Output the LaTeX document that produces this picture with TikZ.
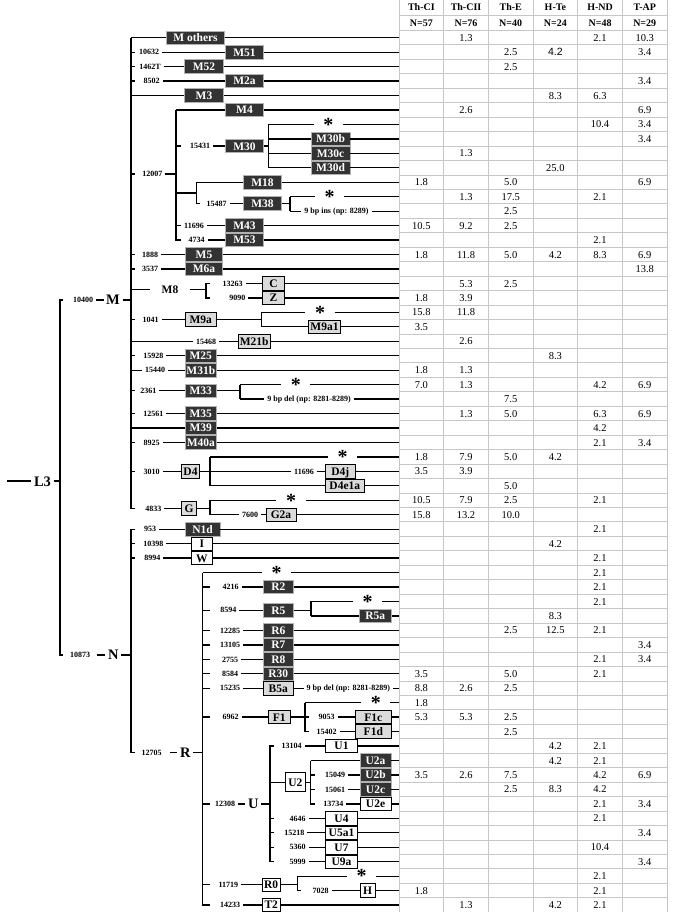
\documentclass[tikz,border=0pt]{standalone}
\usepackage{fontspec}
\setmainfont{Liberation Serif}
\newfontfamily\cellsans{Liberation Sans}
\definecolor{boxdark}{gray}{0.2}
\definecolor{boxlight}{gray}{0.86}
\definecolor{gridline}{gray}{0.78}

\tikzset{
	bx/.style={draw, line width=0.8pt, minimum width=#1, minimum height=13.5pt, inner sep=0pt, text height=7.8pt, text depth=0pt, font=\fontsize{11.5}{11.5}\selectfont\bfseries},
	dbx/.style={bx=#1, fill=boxdark, draw=gray!60, text=white},
	lbx/.style={bx=#1, fill=boxlight},
	wbx/.style={bx=#1, fill=white},
	num/.style={inner xsep=2.5pt, inner ysep=0pt, text height=5.5pt, text depth=0pt, font=\fontsize{8}{8}\selectfont\bfseries},
	clade/.style={inner xsep=2pt, inner ysep=0pt, text height=10pt, text depth=0pt, font=\fontsize{14.5}{15}\selectfont\bfseries},
	astk/.style={minimum width=28pt, inner sep=0pt, text height=13.5pt, text depth=0pt, font=\fontsize{20}{20}\selectfont\bfseries},
	cell/.style={inner sep=0pt, text height=7.1pt, text depth=0pt, font=\fontsize{10.5}{10.5}\selectfont},
	hdr/.style={inner sep=0pt, text height=6.8pt, text depth=0pt, font=\fontsize{10}{10}\selectfont\bfseries},
	tabline/.style={gridline, line width=1pt}
}

\begin{document}
\begin{tikzpicture}[x=1pt, y=-14.455pt, line width=1.3pt]
	\useasboundingbox (0,-1.608) rectangle (685,61.48);

	% table
	\foreach \x in {0,...,6}
		\draw[tabline] ({399+44.667*\x},-1.608) -- ({399+44.667*\x},61.48);
	\draw[tabline] (399,-0.55) -- (667,-0.55);
	\foreach \i in {0,...,60}
		\draw[tabline] (399,\i+0.5) -- (667,\i+0.5);
	\foreach \c/\h/\n in {1/Th-CI/57, 2/Th-CII/76, 3/Th-E/40, 4/H-Te/24, 5/H-ND/48, 6/T-AP/29} {
		\node[hdr] (hd\c) at ({399+44.667*(\c-0.5)},-1.15) {\h};
		\node[hdr] (hn\c) at ({399+44.667*(\c-0.5)},0) {N=\n};
	}
	\foreach \r/\c/\v in {1/2/1.3, 1/5/2.1, 1/6/10.3, 2/3/2.5, 2/6/3.4, 3/3/2.5, 4/6/3.4,
		5/4/8.3, 5/5/6.3, 6/2/2.6, 6/6/6.9, 7/5/10.4, 7/6/3.4, 8/6/3.4, 9/2/1.3, 10/4/25.0,
		11/1/1.8, 11/3/5.0, 11/6/6.9, 12/2/1.3, 12/3/17.5, 12/5/2.1, 13/3/2.5,
		14/1/10.5, 14/2/9.2, 14/3/2.5, 15/5/2.1,
		16/1/1.8, 16/2/11.8, 16/3/5.0, 16/4/4.2, 16/5/8.3, 16/6/6.9, 17/6/13.8,
		18/2/5.3, 18/3/2.5, 19/1/1.8, 19/2/3.9, 20/1/15.8, 20/2/11.8, 21/1/3.5,
		22/2/2.6, 23/4/8.3, 24/1/1.8, 24/2/1.3, 25/1/7.0, 25/2/1.3, 25/5/4.2, 25/6/6.9,
		26/3/7.5, 27/2/1.3, 27/3/5.0, 27/5/6.3, 27/6/6.9, 28/5/4.2, 29/5/2.1, 29/6/3.4,
		30/1/1.8, 30/2/7.9, 30/3/5.0, 30/4/4.2, 31/1/3.5, 31/2/3.9, 32/3/5.0,
		33/1/10.5, 33/2/7.9, 33/3/2.5, 33/5/2.1, 34/1/15.8, 34/2/13.2, 34/3/10.0,
		35/5/2.1, 36/4/4.2, 37/5/2.1, 38/5/2.1, 39/5/2.1, 40/5/2.1, 41/4/8.3,
		42/3/2.5, 42/4/12.5, 42/5/2.1, 43/6/3.4, 44/5/2.1, 44/6/3.4,
		45/1/3.5, 45/3/5.0, 45/5/2.1, 46/1/8.8, 46/2/2.6, 46/3/2.5, 47/1/1.8,
		48/1/5.3, 48/2/5.3, 48/3/2.5, 49/3/2.5, 50/4/4.2, 50/5/2.1, 51/4/4.2, 51/5/2.1,
		52/1/3.5, 52/2/2.6, 52/3/7.5, 52/5/4.2, 52/6/6.9, 53/3/2.5, 53/4/8.3, 53/5/4.2,
		54/5/2.1, 54/6/3.4, 55/5/2.1, 56/6/3.4, 57/5/10.4, 58/6/3.4, 59/5/2.1,
		60/1/1.8, 60/5/2.1, 61/2/1.3, 61/4/4.2, 61/5/2.1}
		\node[cell] (c\r-\c) at ({399+44.667*(\c-0.5)},\r) {\v};
	\node[cell, font=\fontsize{10.5}{10.5}\cellsans] (c2-4) at ({399+44.667*3.5},2) {4.2};

	\foreach \i in {1,...,61}
		\coordinate (e\i) at (399,\i);

	% bars
	\coordinate (l3v) at (60,0);
	\coordinate (mv) at (131,0);
	\coordinate (nv) at (131,0);
	\coordinate (m4v) at (176,0);
	\coordinate (m18v) at (196.7,0);
	\coordinate (m30v) at (268.3,0);
	\coordinate (m38v) at (290,0);
	\coordinate (m8v) at (206,0);
	\coordinate (m9av) at (261.7,0);
	\coordinate (m33v) at (240,0);
	\coordinate (d4v) at (210,0);
	\coordinate (gv) at (210,0);
	\coordinate (rv) at (202.7,0);
	\coordinate (r5v) at (311,0);
	\coordinate (f1v) at (305,0);
	\coordinate (uv) at (270,0);
	\coordinate (u2v) at (310.7,0);
	\coordinate (r0v) at (297.3,0);
	\coordinate (j18) at (186,11.75);
	\coordinate (root) at (6.7,31.67);

	% L3, M, N
	\node[clade] (l3) at (42.5,31.67) {L3};
	\node[num] (n10400) at (83,19.14) {10400};
	\node[clade] (mlab) at (113,19.14) {M};
	\node[num, inner xsep=6pt] (n10873) at (80,43.7) {10873};
	\node[clade] (nlab) at (113.3,43.7) {N};
	\draw (root) -- (l3) -- (l3v |- l3);
	\draw (l3v |- mlab) ++(3,0) -- (l3v |- mlab) -- (l3v |- nlab) -- ++(3,0);
	\draw (n10400) -- (mlab) -- (mv |- mlab);
	\draw (n10873) -- (nlab) -- (nv |- nlab);

	% M
	\node[dbx=57.6] (mo) at (195.5,1) {M others};
	\node[num] (n10632) at (149,2) {10632};
	\node[dbx=37.6] (m51) at (244.5,2) {M51};
	\node[num] (n1462T) at (150,3) {1462T};
	\node[dbx=38.3] (m52) at (204,3) {M52};
	\node[num] (n8502) at (151.7,4) {8502};
	\node[dbx=37.6] (m2a) at (244.5,4) {M2a};
	\node[dbx=38.3] (m3) at (204,5) {M3};
	\node[num] (n12007) at (152.3,10.42) {12007};
	\node[dbx=37.6] (m4) at (244.5,6) {M4};
	\node[num] (n15431) at (200,8.5) {15431};
	\node[dbx=37.6] (m30) at (244.5,8.5) {M30};
	\node[astk] (s7) at (328.3,7) {*};
	\node[dbx=39] (m30b) at (330.5,8) {M30b};
	\node[dbx=39] (m30c) at (330.5,9) {M30c};
	\node[dbx=39] (m30d) at (330.5,10) {M30d};
	\node[dbx=38.4] (m18) at (262.5,11) {M18};
	\node[num] (n15487) at (216.7,12.47) {15487};
	\node[dbx=38.4] (m38) at (262.5,12.47) {M38};
	\node[astk] (s12) at (329.5,12) {*};
	\node[num] (ins) at (336.5,13) {9 bp ins (np: 8289)};
	\node[num] (n11696a) at (194,14) {11696};
	\node[dbx=37.6] (m43) at (244.5,14) {M43};
	\node[num] (n4734) at (196.7,15) {4734};
	\node[dbx=37.6] (m53) at (244.5,15) {M53};
	\node[num] (n1888) at (150,16) {1888};
	\node[dbx=37.7] (m5) at (204,16) {M5};
	\node[num] (n3537) at (150,17) {3537};
	\node[dbx=37.7] (m6a) at (204,17) {M6a};
	\node[font=\fontsize{11.5}{11.5}\selectfont\bfseries, inner xsep=11pt, inner ysep=0pt, text height=7.8pt, text depth=0pt] (m8) at (170,18.42) {M8};
	\node[num] (n13263) at (232.7,18) {13263};
	\node[lbx=21.6] (c) at (273.5,18) {C};
	\node[num] (n9090) at (237.3,19) {9090};
	\node[lbx=21.6] (z) at (273.5,19) {Z};
	\node[num] (n1041) at (150.7,20.5) {1041};
	\node[lbx=31.7] (m9a) at (200.8,20.5) {M9a};
	\node[astk] (s20) at (320,20) {*};
	\node[lbx=32.3] (m9a1) at (324.5,21) {M9a1};
	\node[num] (n15468) at (206,22) {15468};
	\node[lbx=31.7] (m21b) at (254.2,22) {M21b};
	\node[num] (n15928) at (153.3,23) {15928};
	\node[dbx=31.7] (m25) at (200.8,23) {M25};
	\node[num] (n15440) at (155,24) {15440};
	\node[dbx=31.7] (m31b) at (200.8,24) {M31b};
	\node[num] (n2361) at (148.3,25.42) {2361};
	\node[dbx=31.7] (m33) at (200.8,25.42) {M33};
	\node[astk] (s25) at (295.8,25) {*};
	\node[num] (del1) at (309,26) {9 bp del (np: 8281-8289)};
	\node[num] (n12561) at (153.3,27) {12561};
	\node[dbx=31.7] (m35) at (200.8,27) {M35};
	\node[dbx=31.7] (m39) at (200.8,28) {M39};
	\node[num] (n8925) at (151.7,29) {8925};
	\node[dbx=31.7] (m40a) at (200.8,29) {M40a};
	\node[num] (n3010) at (151.7,31) {3010};
	\node[lbx=17.7] (d4) at (190.5,31) {D4};
	\node[astk] (s30) at (342.5,30) {*};
	\node[num] (n11696b) at (304,31) {11696};
	\node[lbx=29.3] (d4j) at (340.3,31) {D4j};
	\node[lbx=38.3] (d4e1a) at (344.8,32) {D4e1a};
	\node[num] (n4833) at (153.3,33.55) {4833};
	\node[lbx=15] (g) at (189.2,33.55) {G};
	\node[astk] (s33) at (291,33) {*};
	\node[num] (n7600) at (250,34) {7600};
	\node[lbx=30] (g2a) at (281,34) {G2a};

	\draw (mv |- mo) -- (mv |- g) -- ++(4,0);
	\draw (mv |- mo) -- (mo) -- (e1);
	\draw (mv |- n10632) -- ++(4,0);
	\draw (n10632) -- (m51) -- (e2);
	\draw (mv |- n1462T) -- ++(4,0);
	\draw (n1462T) -- (m52) -- (e3);
	\draw (mv |- n8502) -- ++(4,0);
	\draw (n8502) -- (m2a) -- (e4);
	\draw (mv |- m3) -- (m3) -- (e5);
	\draw (mv |- n12007) -- ++(4,0);
	\draw (n12007) -- (m4v |- n12007);
	\draw (m4v |- m4) -- (m4v |- m53) -- ++(5,0);
	\draw (m4v |- m4) -- (m4) -- (e6);
	\draw (m4v |- n15431) -- ++(5,0);
	\draw (n15431) -- (m30) -- (m30v |- m30);
	\draw (m30v |- s7) -- (m30v |- m30d);
	\draw (m30v |- s7) -- (s7) -- (e7);
	\draw (m30v |- m30b) -- (m30b) -- (e8);
	\draw (m30v |- m30c) -- (m30c) -- (e9);
	\draw (m30v |- m30d) -- (m30d) -- (e10);
	\draw (m4v |- j18) -- (m18v |- j18);
	\draw (m18v |- m18) -- (m18v |- m38) -- ++(3,0);
	\draw (m18v |- m18) -- (m18) -- (e11);
	\draw (n15487) -- (m38) -- (m38v |- m38);
	\draw (m38v |- s12) -- (m38v |- ins);
	\draw (m38v |- s12) -- (s12) -- (e12);
	\draw (m38v |- ins) -- (ins) -- (e13);
	\draw (m4v |- n11696a) -- ++(5,0);
	\draw (n11696a) -- (m43) -- (e14);
	\draw (n4734) -- (m53) -- (e15);
	\draw (mv |- n1888) -- ++(4,0);
	\draw (n1888) -- (m5) -- (e16);
	\draw (mv |- n3537) -- ++(4,0);
	\draw (n3537) -- (m6a) -- (e17);
	\draw (mv |- m8) -- (m8) -- (m8v |- m8);
	\draw (m8v |- c) ++(4,0) -- (m8v |- c) -- (m8v |- z) -- ++(4,0);
	\draw (n13263) -- (c) -- (e18);
	\draw (n9090) -- (z) -- (e19);
	\draw (mv |- n1041) -- ++(4,0);
	\draw (n1041) -- (m9a) -- (m9av |- m9a);
	\draw (m9av |- s20) -- (m9av |- m9a1);
	\draw (m9av |- s20) -- (s20) -- (e20);
	\draw (m9av |- m9a1) -- (m9a1) -- (e21);
	\draw (mv |- n15468) -- (n15468) -- (m21b) -- (e22);
	\draw (mv |- n15928) -- ++(4,0);
	\draw (n15928) -- (m25) -- (e23);
	\draw (mv |- n15440) -- (n15440) -- (m31b) -- (e24);
	\draw (mv |- n2361) -- ++(4,0);
	\draw (n2361) -- (m33) -- (m33v |- m33);
	\draw (m33v |- s25) -- (m33v |- del1);
	\draw (m33v |- s25) -- (s25) -- (e25);
	\draw (m33v |- del1) -- (del1) -- (e26);
	\draw (mv |- n12561) -- ++(4,0);
	\draw (n12561) -- (m35) -- (e27);
	\draw (mv |- m39) -- (m39) -- (e28);
	\draw (mv |- n8925) -- ++(4,0);
	\draw (n8925) -- (m40a) -- (e29);
	\draw (mv |- n3010) -- ++(4,0);
	\draw (n3010) -- (d4) -- (d4v |- d4);
	\draw (d4v |- s30) -- (d4v |- d4e1a);
	\draw (d4v |- s30) -- (s30) -- (e30);
	\draw (d4v |- n11696b) -- (n11696b) -- (d4j) -- (e31);
	\draw (d4v |- d4e1a) -- (d4e1a) -- (e32);
	\draw (n4833) -- (g) -- (gv |- g);
	\draw (gv |- s33) -- (gv |- n7600);
	\draw (gv |- s33) -- (s33) -- (e33);
	\draw (gv |- n7600) -- (n7600) -- (g2a) -- (e34);

	% N
	\node[num] (n953) at (150,35) {953};
	\node[dbx=35] (n1d) at (202.5,35) {N1d};
	\node[num] (n10398) at (153.3,36) {10398};
	\node[wbx=21.7] (i) at (201.8,36) {I};
	\node[num] (n8994) at (152.3,37) {8994};
	\node[wbx=21.7] (w) at (201.8,37) {W};
	\node[num, inner xsep=8pt] (n12705) at (151.7,50.45) {12705};
	\node[clade] (r) at (185.3,50.45) {R};
	\node[astk] (s38) at (276.7,38) {*};
	\node[num] (n4216) at (230.7,39) {4216};
	\node[dbx=30] (r2) at (278.3,39) {R2};
	\node[num] (n8594) at (228.3,40.6) {8594};
	\node[dbx=30] (r5) at (278.3,40.6) {R5};
	\node[astk] (s40) at (367.5,40) {*};
	\node[dbx=32.7] (r5a) at (375.3,41) {R5a};
	\node[num] (n12285) at (230,42) {12285};
	\node[dbx=30] (r6) at (278.3,42) {R6};
	\node[num] (n13105) at (230,43) {13105};
	\node[dbx=30] (r7) at (278.3,43) {R7};
	\node[num] (n2755) at (230,44) {2755};
	\node[dbx=30] (r8) at (278.3,44) {R8};
	\node[num] (n8584) at (230,45) {8584};
	\node[dbx=30] (r30) at (278.3,45) {R30};
	\node[num] (n15235) at (230,46) {15235};
	\node[lbx=30] (b5a) at (278.3,46) {B5a};
	\node[num] (del2) at (348.3,46) {9 bp del (np: 8281-8289)};
	\node[num] (n6962) at (230.7,48) {6962};
	\node[lbx=21.7] (f1) at (279.2,48) {F1};
	\node[astk] (s47) at (375.8,47) {*};
	\node[num] (n9053) at (326.7,48) {9053};
	\node[lbx=35.3] (f1c) at (373.3,48) {F1c};
	\node[num] (n15402) at (326.7,49) {15402};
	\node[lbx=35.3] (f1d) at (373.3,49) {F1d};
	\node[num] (n12308) at (225,54) {12308};
	\node[clade] (u) at (253.3,54) {U};
	\node[num] (n13104) at (291.7,50) {13104};
	\node[wbx=31.7] (u1) at (341.5,50) {U1};
	\node[wbx=19.3, minimum height=19.4pt] (u2) at (295.3,52.5) {U2};
	\node[dbx=31] (u2a) at (375.5,51) {U2a};
	\node[num] (n15049) at (335,52) {15049};
	\node[dbx=31] (u2b) at (375.5,52) {U2b};
	\node[num] (n15061) at (335,53) {15061};
	\node[dbx=31] (u2c) at (375.5,53) {U2c};
	\node[num] (n13734) at (333.3,54) {13734};
	\node[wbx=31] (u2e) at (375.5,54) {U2e};
	\node[num] (n4646) at (297.7,55) {4646};
	\node[wbx=31.7] (u4) at (341.5,55) {U4};
	\node[num] (n15218) at (294.3,56) {15218};
	\node[wbx=31.7] (u5a1) at (341.5,56) {U5a1};
	\node[num] (n5360) at (297.7,57) {5360};
	\node[wbx=31.7] (u7) at (341.5,57) {U7};
	\node[num] (n5999) at (297.7,58) {5999};
	\node[wbx=31.7] (u9a) at (341.5,58) {U9a};
	\node[num] (n11719) at (228.3,59.6) {11719};
	\node[wbx=17.7] (r0) at (271.2,59.6) {R0};
	\node[astk] (s59) at (361.7,59) {*};
	\node[num] (n7028) at (320.7,60) {7028};
	\node[wbx=15] (h) at (367.5,60) {H};
	\node[num] (n14233) at (230,61) {14233};
	\node[wbx=17.7] (t2) at (271.2,61) {T2};

	\draw (nv |- n1d) ++(4,0) -- (nv |- n1d) -- (nv |- r) -- ++(4,0);
	\draw (n953) -- (n1d) -- (e35);
	\draw (nv |- n10398) -- ++(4,0);
	\draw (n10398) -- (i) -- (e36);
	\draw (nv |- n8994) -- ++(4,0);
	\draw (n8994) -- (w) -- (e37);
	\draw (n12705) -- (r) -- (rv |- r);
	\draw (rv |- s38) -- (rv |- t2) -- ++(7,0);
	\draw (rv |- s38) -- (s38) -- (e38);
	\foreach \k/\b/\rw in {n4216/r2/39, n12285/r6/42, n13105/r7/43, n2755/r8/44, n8584/r30/45} {
		\draw (rv |- \k) -- ++(7,0);
		\draw (\k) -- (\b) -- (e\rw);
	}
	\draw (rv |- n8594) -- ++(7,0);
	\draw (n8594) -- (r5) -- (r5v |- r5);
	\draw (r5v |- s40) -- (r5v |- r5a);
	\draw (r5v |- s40) -- (s40) -- (e40);
	\draw (r5v |- r5a) -- (r5a) -- (e41);
	\draw (rv |- n15235) -- ++(7,0);
	\draw (n15235) -- (b5a) -- (del2) -- (e46);
	\draw (rv |- n6962) -- ++(7,0);
	\draw (n6962) -- (f1) -- (f1v |- f1);
	\draw (f1v |- s47) -- (f1v |- n15402) -- ++(4,0);
	\draw (f1v |- s47) -- (s47) -- (e47);
	\draw (f1v |- n9053) -- ++(4,0);
	\draw (n9053) -- (f1c) -- (e48);
	\draw (n15402) -- (f1d) -- (e49);
	\draw (rv |- n12308) -- ++(7,0);
	\draw (n12308) -- (u) -- (uv |- u);
	\draw (uv |- n13104) ++(4,0) -- (uv |- n13104) -- (uv |- n5999) -- ++(4,0);
	\draw (n13104) -- (u1) -- (e50);
	\draw (uv |- u2) -- (u2) -- (u2v |- u2);
	\draw (u2v |- u2a) -- (u2v |- n13734) -- ++(4,0);
	\draw (u2v |- u2a) -- (u2a) -- (e51);
	\draw (u2v |- n15049) -- ++(4,0);
	\draw (n15049) -- (u2b) -- (e52);
	\draw (u2v |- n15061) -- ++(4,0);
	\draw (n15061) -- (u2c) -- (e53);
	\draw (n13734) -- (u2e) -- (e54);
	\foreach \k/\b/\rw in {n4646/u4/55, n15218/u5a1/56, n5360/u7/57} {
		\draw (uv |- \k) -- ++(4,0);
		\draw (\k) -- (\b) -- (e\rw);
	}
	\draw (n5999) -- (u9a) -- (e58);
	\draw (rv |- n11719) -- ++(7,0);
	\draw (n11719) -- (r0) -- (r0v |- r0);
	\draw (r0v |- s59) -- (r0v |- n7028) -- ++(4,0);
	\draw (r0v |- s59) -- (s59) -- (e59);
	\draw (n7028) -- (h) -- (e60);
	\draw (n14233) -- (t2) -- (e61);
\end{tikzpicture}
\end{document}
